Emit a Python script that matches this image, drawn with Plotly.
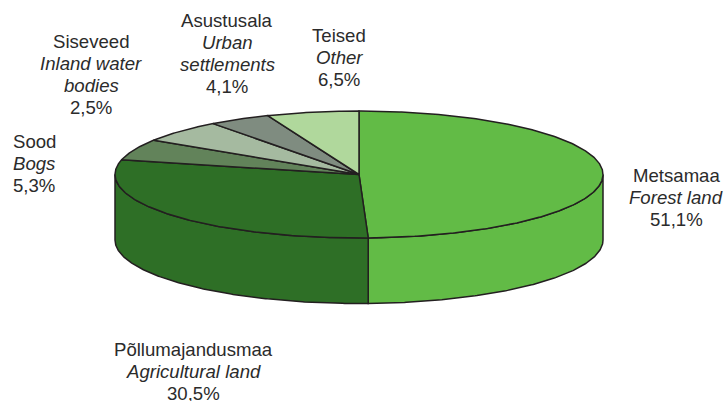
"""Land use shares drawn as a tilted 3D-style pie with plain scatter traces."""

import numpy as np
import plotly.graph_objects as go

names_et = ['Metsamaa', 'Põllumajandusmaa', 'Sood', 'Siseveed', 'Asustusala', 'Teised']
names_en = [['Forest land'], ['Agricultural land'], ['Bogs'], ['Inland water', 'bodies'],
            ['Urban', 'settlements'], ['Other']]
label_values = ['51,1%', '30,5%', '5,3%', '2,5%', '4,1%', '6,5%']

# Sweep of each slice as it appears in the picture (differs a bit from the printed shares)
drawn_shares = [49.4, 29.3, 5.4, 5.7, 4.1, 6.1]
colors = ['#62BB46', '#2E6F26', '#62835A', '#A5BAA0', '#7F8C80', '#B0D89C']

label_x = [676, 193, 34, 91, 227, 339]
label_y = [197, 371, 163, 74, 53, 57]

WIDTH, HEIGHT = 725, 401
CX, CY = 359, 174.5
RX, RY = 244, 63.5
DEPTH = 65.5
OUTLINE = '#231F20'
TEXT_COLOR = '#2B2B2B'
LINE_STEP = 22


def rim(start, end, drop=0.0):
    """Points on the ellipse, angles in degrees clockwise from the top."""
    t = np.radians(np.linspace(start, end, max(2, int(abs(end - start) * 2))))
    return CX + RX * np.sin(t), CY - RY * np.cos(t) + drop


fig = go.Figure()

edges = np.concatenate([[0], np.cumsum(drawn_shares)]) / sum(drawn_shares) * 360

# Side walls first, only the part of the rim that faces the viewer
for i, color in enumerate(colors):
    start, end = max(edges[i], 90), min(edges[i + 1], 270)
    if start >= end:
        continue
    x_top, y_top = rim(start, end)
    x_low, y_low = rim(end, start, DEPTH)
    fig.add_trace(go.Scatter(
        x=np.concatenate([x_top, x_low, x_top[:1]]),
        y=np.concatenate([y_top, y_low, y_top[:1]]),
        mode='lines', fill='toself', fillcolor=color,
        line=dict(color=OUTLINE, width=1.5),
        hoverinfo='skip', showlegend=False
    ))

# Top face
for i, color in enumerate(colors):
    x_arc, y_arc = rim(edges[i], edges[i + 1])
    fig.add_trace(go.Scatter(
        x=np.concatenate([[CX], x_arc, [CX]]),
        y=np.concatenate([[CY], y_arc, [CY]]),
        mode='lines', fill='toself', fillcolor=color,
        line=dict(color=OUTLINE, width=1.5),
        name=names_et[i], text=label_values[i], hoverinfo='name+text',
        showlegend=False
    ))

# One annotation per line, the line spacing is tighter than plotly's <br> gives
for i, name in enumerate(names_et):
    lines = [name] + [f'<i>{part}</i>' for part in names_en[i]] + [label_values[i]]
    first_y = label_y[i] - LINE_STEP * (len(lines) - 1) / 2
    for j, line in enumerate(lines):
        fig.add_annotation(
            x=label_x[i], y=first_y + j * LINE_STEP,
            text=line,
            showarrow=False, align='center', xanchor='center', yanchor='middle',
            font=dict(family='Liberation Sans', size=18.6, color=TEXT_COLOR)
        )

fig.update_layout(
    width=WIDTH, height=HEIGHT,
    margin=dict(l=0, r=0, t=0, b=0),
    paper_bgcolor='white', plot_bgcolor='white',
    xaxis=dict(range=[0, WIDTH], visible=False, fixedrange=True),
    yaxis=dict(range=[HEIGHT, 0], visible=False, fixedrange=True),
    showlegend=False
)

fig.write_html("out.html", config=dict(displayModeBar=False),
               post_script="document.body.style.margin='0';document.body.style.overflow='hidden';")
